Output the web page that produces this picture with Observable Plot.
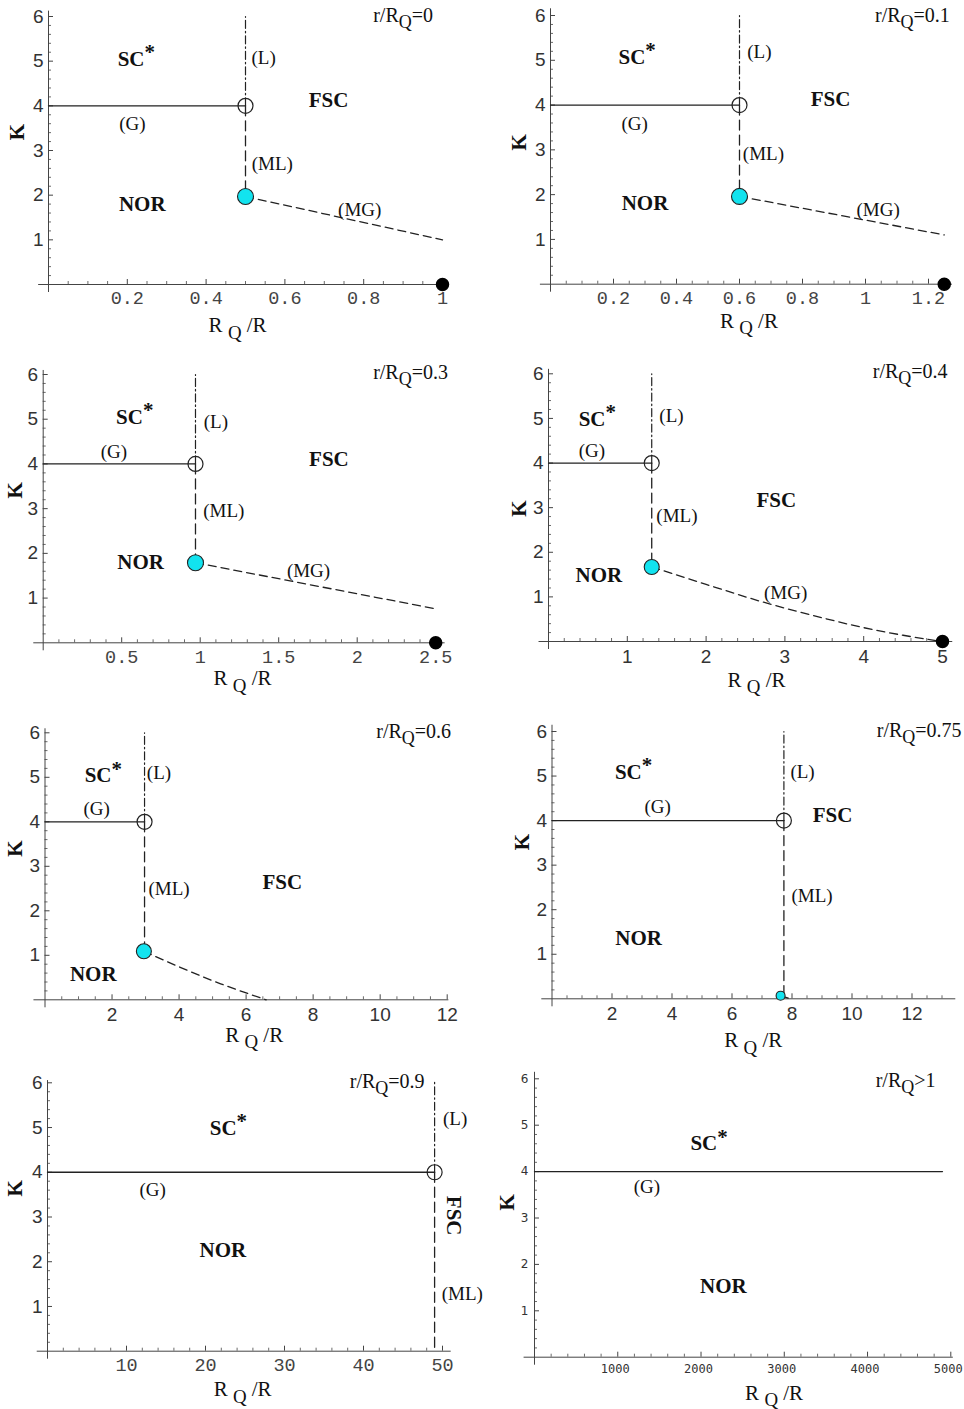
<!DOCTYPE html>
<html><head><meta charset="utf-8">
<script src="https://cdn.jsdelivr.net/npm/d3@7"></script>
<script src="https://cdn.jsdelivr.net/npm/@observablehq/plot@0.6"></script>
<style>
body{margin:0;background:#fff;}
#root{position:relative;width:964px;height:1409px;overflow:hidden;background:#fff;}
#root svg{position:absolute;overflow:visible;}
text{white-space:pre;}
</style></head><body><div id="root"></div>
<script>
// ---------------- DATA ----------------
const titles = ["r/R_{Q}=0","r/R_{Q}=0.1","r/R_{Q}=0.3","r/R_{Q}=0.4","r/R_{Q}=0.6","r/R_{Q}=0.75","r/R_{Q}=0.9","r/R_{Q}>1"];
const titlePos = [[0.90,6.02],[1.149,6.0],[2.34,6.05],[4.59,6.04],[11.0,6.03],[12.24,6.02],[43.0,6.02],[4457,5.96]];
const xTicks = [
  [0.2,0.4,0.6,0.8,1],
  [0.2,0.4,0.6,0.8,1,1.2],
  [0.5,1,1.5,2,2.5],
  [1,2,3,4,5],
  [2,4,6,8,10,12],
  [2,4,6,8,10,12],
  [10,20,30,40,50],
  [1000,2000,3000,4000,5000]
];
const xMinorStep = [0.05,0.05,0.1,0.2,0.5,0.5,2,200];
const yTicks = [1,2,3,4,5,6];
const yMinorStep = 0.2;
// tricritical point (open circle) at K = 4
const tricritX = [0.5,0.6,0.97,1.31,2.97,7.73,49,null];
const tricritK = [4,4,4,4,4,4,4,null];
// bicritical point (cyan)
const bicritX = [0.5,0.6,0.97,1.31,2.95,7.62,null,null];
const bicritK = [1.97,1.96,1.79,1.67,1.09,0.07,null,null];
// end point (black) at K = 0
const endX = [1,1.25,2.5,5,null,null,null,null];
// (G) line right end
const gEndX = [0.5,0.6,0.97,1.31,2.97,7.73,49,4900];
// (L) line top, (ML) line bottom
const lTopK = [6,6,6,6,6,6,6.05,null];
const mlBottomK = [1.97,1.96,1.79,1.67,1.09,0.1,0,null];
// (MG) curves
const mgCurves = [
  [[0.5,1.97],[1,1]],
  [[0.6,1.96],[1.25,1.1]],
  [[0.97,1.79],[2.5,0.76]],
  [[1.31,1.67],[2,1.28],[2.73,0.88],[3.5,0.52],[4,0.31],[4.5,0.14],[5,0]],
  [[2.95,1.09],[5.24,0.36],[6.6,0]],
  [[7.62,0.07],[7.95,0]],
  [],
  []
];
const regionLabels = [
  [{t:"SC^{*}",x:0.223,k:5.05},{t:"FSC",x:0.711,k:4.12},{t:"NOR",x:0.238,k:1.79}],
  [{t:"SC^{*}",x:0.275,k:5.07},{t:"FSC",x:0.889,k:4.12},{t:"NOR",x:0.30,k:1.8}],
  [{t:"SC^{*}",x:0.583,k:5.05},{t:"FSC",x:1.82,k:4.1},{t:"NOR",x:0.62,k:1.79}],
  [{t:"SC^{*}",x:0.62,k:4.99},{t:"FSC",x:2.89,k:3.17},{t:"NOR",x:0.64,k:1.48}],
  [{t:"SC^{*}",x:1.74,k:5.04},{t:"FSC",x:7.08,k:2.63},{t:"NOR",x:1.44,k:0.58}],
  [{t:"SC^{*}",x:2.72,k:5.09},{t:"FSC",x:9.35,k:4.13},{t:"NOR",x:2.89,k:1.35}],
  [{t:"SC^{*}",x:22.9,k:4.98},{t:"NOR",x:22.2,k:2.25}],
  [{t:"SC^{*}",x:2097,k:4.6},{t:"NOR",x:2268,k:1.53}]
];
const verticalLabels = [[],[],[],[],[],[],[{t:"FSC",x:51.4,k:3.03}],[]];
const lineLabels = [
  [{t:"(L)",x:0.546,k:5.08},{t:"(G)",x:0.213,k:3.6},{t:"(ML)",x:0.568,k:2.7},{t:"(MG)",x:0.79,k:1.67}],
  [{t:"(L)",x:0.663,k:5.18},{t:"(G)",x:0.267,k:3.58},{t:"(ML)",x:0.676,k:2.91},{t:"(MG)",x:1.04,k:1.66}],
  [{t:"(L)",x:1.1,k:4.93},{t:"(G)",x:0.45,k:4.26},{t:"(ML)",x:1.15,k:2.96},{t:"(MG)",x:1.69,k:1.6}],
  [{t:"(L)",x:1.56,k:5.05},{t:"(G)",x:0.55,k:4.28},{t:"(ML)",x:1.63,k:2.82},{t:"(MG)",x:3.01,k:1.09}],
  [{t:"(L)",x:3.4,k:5.1},{t:"(G)",x:1.54,k:4.29},{t:"(ML)",x:3.7,k:2.49}],
  [{t:"(L)",x:8.35,k:5.09},{t:"(G)",x:3.52,k:4.3},{t:"(ML)",x:8.67,k:2.32}],
  [{t:"(L)",x:51.6,k:5.2},{t:"(G)",x:13.3,k:3.6},{t:"(ML)",x:52.5,k:1.28}],
  [{t:"(G)",x:1350,k:3.66}]
];
const xAxisLabel = "R _{Q} /R";
const yAxisLabel = "K";
const xAxisLabelPos = [[0.48,-0.92],[0.63,-0.83],[1.27,-0.80],[2.64,-0.87],[6.24,-0.80],[6.71,-0.94],[24.7,-0.86],[2878,-0.78]];
const yAxisLabelPos = [[-0.079,3.41],[-0.099,3.17],[-0.176,3.41],[-0.37,2.98],[-0.88,3.4],[-0.98,3.52],[-4.05,3.64],[-324,3.34]];

// ---------------- LAYOUT (page pixels / styles) ----------------
const layout = [
  {left:0,  top:0,    h:355, xRef:1,    x0:48,    x1:442,   y0:284,    y6:16,    xFrom:-0.025, xTo:1.013, yTo:6.12, font:"mono", cyanR:8},
  {left:482,top:0,    h:355, xRef:1,    x0:550,   x1:865,   y0:283.7,  y6:15,    xFrom:-0.032, xTo:1.276, yTo:6.15, font:"mono", cyanR:8},
  {left:0,  top:355,  h:355, xRef:2,    x0:42.7,  x1:356.7, y0:642.3,  y6:374,   xFrom:-0.06,  xTo:2.56,  yTo:6.09, font:"mono", cyanR:8},
  {left:482,top:355,  h:355, xRef:5,    x0:548,   x1:942,   y0:641,    y6:373.3, xFrom:-0.12,  xTo:5.13,  yTo:6.1,  font:"sans", cyanR:7.5},
  {left:0,  top:710,  h:352, xRef:12,   x0:44.5,  x1:446.7, y0:999.3,  y6:732.3, xFrom:-0.33,  xTo:12.05, yTo:6.09, font:"sans", cyanR:7.5},
  {left:482,top:710,  h:352, xRef:12,   x0:551.5, x1:911.5, y0:998.3,  y6:731,   xFrom:-0.34,  xTo:13.46, yTo:6.14, font:"sans", cyanR:4.5},
  {left:0,  top:1062, h:347, xRef:50,   x0:47,    x1:442,   y0:1350.7, y6:1082.3,xFrom:-1.3,   xTo:51.1,  yTo:6.05, font:"mono", cyanR:8},
  {left:482,top:1062, h:347, xRef:5000, x0:534,   x1:950.3, y0:1356.7, y6:1078.3,xFrom:-125,   xTo:5030,  yTo:6.14, font:"small", cyanR:8}
];
const serif = "'Liberation Serif','Times New Roman',serif";
const fonts = {
  mono:  {xFamily:"'Liberation Mono','Courier New',monospace", xSize:18.5, xFill:"#444", yFamily:"'Liberation Sans',sans-serif", ySize:19, xDy:14, xDx:0, yDx:5},
  sans:  {xFamily:"'Liberation Sans',sans-serif", xSize:19, xFill:"#333", yFamily:"'Liberation Sans',sans-serif", ySize:19, xDy:15, xDx:0, yDx:5},
  small: {xFamily:"'DejaVu Sans Mono',monospace", xSize:12, xFill:"#333", yFamily:"'DejaVu Sans',sans-serif", ySize:12, xDy:12, xDx:-2.5, yDx:6}
};
const ink = "#222";
const axisInk = "#444";

function richify(svg) {
  svg.querySelectorAll("text").forEach(el => {
    const t = el.textContent;
    if (!/[_^]\{/.test(t)) return;
    const fs = parseFloat(getComputedStyle(el).fontSize) || 20;
    const parts = t.split(/([_^]\{[^}]*\})/).filter(s => s !== "");
    el.textContent = "";
    let cur = 0;
    for (const p of parts) {
      const m = p.match(/^([_^])\{([^}]*)\}$/);
      const target = m ? (m[1] === "_" ? 0.3 * fs : -0.32 * fs) : 0;
      const ts = document.createElementNS("http://www.w3.org/2000/svg", "tspan");
      ts.textContent = m ? m[2] : p;
      if (target !== cur) ts.setAttribute("dy", (target - cur).toFixed(2));
      if (m && m[1] === "_") ts.setAttribute("font-size", (fs * 0.9).toFixed(1));
      cur = target;
      el.appendChild(ts);
    }
  });
}

const root = document.getElementById("root");
layout.forEach((L, i) => {
  const F = fonts[L.font];
  const pxX = (L.x1 - L.x0) / L.xRef;
  const pxY = (L.y0 - L.y6) / 6;
  const near = (a, b) => Math.abs(a - b) < 1e-9 * Math.max(1, Math.abs(b));
  const xMinor = d3.range(xMinorStep[i], L.xTo + 1e-9, xMinorStep[i]).filter(v => !xTicks[i].some(m => near(m, v)));
  const yMinor = d3.range(yMinorStep, 6 + 1e-9, yMinorStep).filter(v => !yTicks.some(m => near(m, v)));
  const marks = [
    Plot.ruleY([0], {x1: L.xFrom, x2: L.xTo, stroke: axisInk, strokeWidth: 1}),
    Plot.ruleX([0], {y1: -8 / pxY, y2: L.yTo, stroke: axisInk, strokeWidth: 1}),
    Plot.ruleX(xTicks[i], {x: d => d, y1: 0, y2: 5 / pxY, stroke: axisInk, strokeWidth: 1}),
    Plot.ruleX(xMinor, {x: d => d, y1: 0, y2: 3 / pxY, stroke: axisInk, strokeWidth: 0.8}),
    Plot.ruleY(yTicks, {y: d => d, x1: 0, x2: 5 / pxX, stroke: axisInk, strokeWidth: 1}),
    Plot.ruleY(yMinor, {y: d => d, x1: 0, x2: 3 / pxX, stroke: axisInk, strokeWidth: 0.8}),
    Plot.text(xTicks[i], {x: d => d, y: 0, dy: F.xDy, dx: F.xDx, text: d => String(d), fontFamily: F.xFamily, fontSize: F.xSize, fill: F.xFill}),
    Plot.text(yTicks, {x: 0, y: d => d, dx: -F.yDx, textAnchor: "end", text: d => String(d), fontFamily: F.yFamily, fontSize: F.ySize, fill: "#333"}),
    // (G) solid line
    Plot.line([[0, 4], [gEndX[i], 4]], {x: d => d[0], y: d => d[1], stroke: ink, strokeWidth: 1.3})
  ];
  if (tricritX[i] != null) {
    marks.push(
      Plot.line([[tricritX[i], tricritK[i]], [tricritX[i], lTopK[i]]], {x: d => d[0], y: d => d[1], stroke: ink, strokeWidth: 1.2, strokeDasharray: "8,3,1.5,3"}),
      Plot.line([[tricritX[i], tricritK[i]], [tricritX[i], mlBottomK[i]]], {x: d => d[0], y: d => d[1], stroke: ink, strokeWidth: 1.3, strokeDasharray: "10,5"})
    );
  }
  if (mgCurves[i].length) {
    marks.push(Plot.line(mgCurves[i], {x: d => d[0], y: d => d[1], stroke: ink, strokeWidth: 1.3, strokeDasharray: "8,5", curve: "monotone-x"}));
  }
  if (tricritX[i] != null) {
    marks.push(Plot.dot([[tricritX[i], tricritK[i]]], {x: d => d[0], y: d => d[1], r: 7.5, fill: "none", stroke: ink, strokeWidth: 1.2}));
  }
  if (bicritX[i] != null) {
    marks.push(Plot.dot([[bicritX[i], bicritK[i]]], {x: d => d[0], y: d => d[1], r: L.cyanR, fill: "#12e3ef", stroke: ink, strokeWidth: 1.1}));
  }
  if (endX[i] != null) {
    marks.push(Plot.dot([[endX[i], 0]], {x: d => d[0], y: d => d[1], r: 6, fill: "#000", stroke: "#000"}));
  }
  marks.push(
    Plot.text(regionLabels[i], {x: "x", y: "k", text: "t", fontFamily: serif, fontSize: 21, fontWeight: "bold", fill: "#111"}),
    Plot.text(verticalLabels[i], {x: "x", y: "k", text: "t", rotate: 90, fontFamily: serif, fontSize: 21, fontWeight: "bold", fill: "#111"}),
    Plot.text(lineLabels[i], {x: "x", y: "k", text: "t", fontFamily: serif, fontSize: 19, fill: "#111"}),
    Plot.text([titles[i]], {x: titlePos[i][0], y: titlePos[i][1], text: d => d, fontFamily: serif, fontSize: 20, fill: "#111"}),
    Plot.text([xAxisLabel], {x: xAxisLabelPos[i][0], y: xAxisLabelPos[i][1], text: d => d, fontFamily: serif, fontSize: 21, fill: "#111"}),
    Plot.text([yAxisLabel], {x: yAxisLabelPos[i][0], y: yAxisLabelPos[i][1], text: d => d, rotate: -90, fontFamily: serif, fontSize: 21, fontWeight: "bold", fill: "#111"})
  );
  const svg = Plot.plot({
    width: 482,
    height: L.h,
    x: {domain: [0, L.xRef], range: [L.x0 - L.left, L.x1 - L.left], axis: null},
    y: {domain: [0, 6], range: [L.y0 - L.top, L.y6 - L.top], axis: null},
    style: {background: "transparent", overflow: "visible"},
    marks
  });
  svg.style.left = L.left + "px";
  svg.style.top = L.top + "px";
  root.appendChild(svg);
  richify(svg);
});
</script>
</body></html>
